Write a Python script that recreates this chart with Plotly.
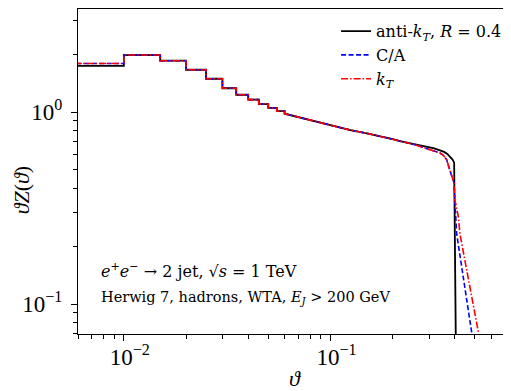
import numpy as np
import plotly.graph_objects as go

# ---- data ----
# step (histogram) part: bin edges and values
step_edges = [0.005, 0.01, 0.015, 0.02, 0.025, 0.03, 0.035, 0.04, 0.045, 0.05, 0.055, 0.06]
akt_step = [1.74, 1.98, 1.85, 1.66, 1.49, 1.33, 1.23, 1.16, 1.10, 1.05, 1.01]
ca_step = [1.79, 1.98, 1.85, 1.66, 1.49, 1.33, 1.23, 1.16, 1.10, 1.05, 1.01]
kt_step = [1.79, 1.98, 1.85, 1.66, 1.49, 1.33, 1.23, 1.16, 1.10, 1.05, 1.01]

# smooth part: theta values and curve values
akt_x = [0.06, 0.07, 0.08, 0.10, 0.125, 0.15, 0.18, 0.20, 0.22, 0.24, 0.26, 0.29, 0.318, 0.339, 0.355, 0.368, 0.38, 0.39, 0.397, 0.4045]
akt_y = [0.98, 0.94, 0.905, 0.855, 0.805, 0.775, 0.745, 0.722, 0.703, 0.688, 0.673, 0.66, 0.647, 0.634, 0.62, 0.605, 0.585, 0.565, 0.545, 0.062]
ca_x = [0.06, 0.07, 0.08, 0.10, 0.125, 0.15, 0.18, 0.20, 0.22, 0.24, 0.26, 0.28, 0.30, 0.318, 0.339, 0.351, 0.365, 0.378, 0.386, 0.396, 0.40, 0.408, 0.49]
ca_y = [0.98, 0.94, 0.905, 0.855, 0.805, 0.775, 0.745, 0.722, 0.703, 0.688, 0.672, 0.655, 0.64, 0.627, 0.612, 0.597, 0.565, 0.50, 0.46, 0.43, 0.35, 0.233, 0.064]
kt_x = [0.06, 0.07, 0.08, 0.10, 0.125, 0.15, 0.18, 0.20, 0.22, 0.24, 0.26, 0.28, 0.30, 0.318, 0.339, 0.351, 0.365, 0.378, 0.386, 0.396, 0.40, 0.416, 0.423, 0.53]
kt_y = [0.98, 0.94, 0.905, 0.855, 0.805, 0.775, 0.745, 0.722, 0.703, 0.688, 0.672, 0.655, 0.64, 0.627, 0.612, 0.597, 0.565, 0.50, 0.46, 0.43, 0.35, 0.285, 0.233, 0.064]

names = ["anti-<i>k</i><sub><i>T</i></sub>, <i>R</i> = 0.4", "C/A", "<i>k</i><sub><i>T</i></sub>"]

x_ticks = [0.01, 0.1]
x_ticktext = ["10<sup>−2</sup>", "10<sup>−1</sup>"]
y_ticks = [0.1, 1.0]
y_ticktext = ["10<sup>−1</sup>", "10<sup>0</sup>"]


def build(edges, vals, sx, sy):
    e = np.asarray(edges)
    v = np.asarray(vals)
    xs = np.repeat(e, 2)[1:-1]
    ys = np.repeat(v, 2)
    return list(xs) + list(sx), list(ys) + list(sy)


FONT = "Liberation Serif"
TFONT = "DejaVu Serif"
fig = go.Figure()
styles = [
    dict(color="#000000", width=1.8, dash="solid"),
    dict(color="#0000ff", width=1.6, dash="5px,2.5px"),
    dict(color="#ff0000", width=1.6, dash="7px,2px,1.5px,2px"),
]
data = [(akt_step, akt_x, akt_y), (ca_step, ca_x, ca_y), (kt_step, kt_x, kt_y)]
for (st, sx, sy), nm, sty in zip(data, names, styles):
    X, Y = build(step_edges, st, sx, sy)
    fig.add_trace(go.Scatter(x=X, y=Y, mode="lines", name=nm, line=sty))

minor_x = [k * 10.0 ** p for p in (-3, -2, -1) for k in range(2, 10)]
minor_y = [k * 10.0 ** p for p in (-2, -1, 0) for k in range(2, 10)]

fig.update_layout(
    width=503, height=383,
    margin=dict(l=70, r=0, t=1, b=57),
    paper_bgcolor="white", plot_bgcolor="white",
    font=dict(family=FONT, color="black"),
    showlegend=True,
    legend=dict(x=0.596, y=0.984, xanchor="left", yanchor="top",
                bgcolor="rgba(0,0,0,0)", font=dict(size=16, family=TFONT),
                tracegroupgap=0, itemwidth=30),
    xaxis=dict(type="log", range=[np.log10(0.006), np.log10(0.748)], automargin=False,
               tickmode="array", tickvals=x_ticks, ticktext=x_ticktext,
               ticks="outside", ticklen=6, tickwidth=1, tickcolor="black",
               ticklabelshift=6, ticklabelstandoff=-4,
               minor=dict(tickmode="array", tickvals=minor_x, ticks="outside",
                          ticklen=3.5, tickwidth=0.8, tickcolor="black", showgrid=False),
               showline=True, linecolor="black", linewidth=1.2, mirror=True,
               showgrid=False, zeroline=False,
               tickfont=dict(size=23, family=FONT),
               title=dict(text="<i>ϑ</i>", font=dict(size=22, family=FONT), standoff=2)),
    yaxis=dict(type="log", range=[np.log10(0.0698), np.log10(3.44)], automargin=False,
               tickmode="array", tickvals=y_ticks, ticktext=y_ticktext,
               ticks="outside", ticklen=6, tickwidth=1, tickcolor="black",
               ticklabelstandoff=4,
               minor=dict(tickmode="array", tickvals=minor_y, ticks="outside",
                          ticklen=3.5, tickwidth=0.8, tickcolor="black", showgrid=False),
               showline=True, linecolor="black", linewidth=1.2, mirror=False,
               showgrid=False, zeroline=False,
               tickfont=dict(size=23, family=FONT)),
)

fig.add_annotation(xref="paper", yref="paper", x=-0.1316, y=0.442, xanchor="center", yanchor="middle",
                   text="<i>ϑZ</i>(<i>ϑ</i>)", textangle=-90,
                   showarrow=False, font=dict(size=22, family=FONT))
fig.add_annotation(xref="paper", yref="paper", x=0.048, y=0.196, xanchor="left", yanchor="middle",
                   text="<i>e</i><sup>+</sup><i>e</i><sup>−</sup> → 2 jet, √<i>s</i> = 1 TeV",
                   showarrow=False, font=dict(size=16, family=TFONT))
fig.add_annotation(xref="paper", yref="paper", x=0.048, y=0.110, xanchor="left", yanchor="middle",
                   text="Herwig 7, hadrons, WTA, <i>E</i><sub><i>J</i></sub> > 200 GeV",
                   showarrow=False, font=dict(size=14.5, family=TFONT))

fig.write_html("out.html")
